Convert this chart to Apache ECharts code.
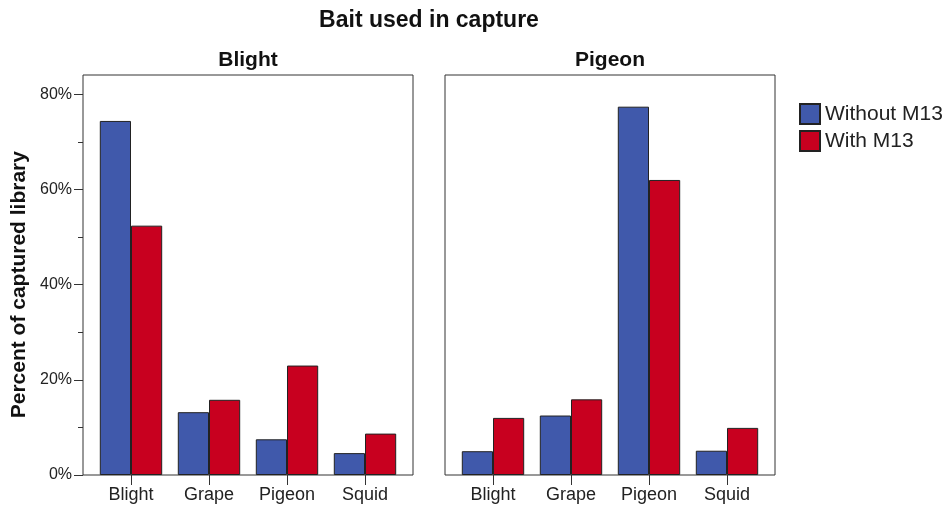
<!DOCTYPE html>
<html>
<head>
<meta charset="utf-8">
<script src="https://cdn.jsdelivr.net/npm/echarts@6/dist/echarts.min.js"></script>
<style>html,body{margin:0;padding:0;background:#fff}#c{width:944px;height:509px}</style>
</head>
<body>
<div id="c"></div>
<script>
const categories = ['Blight', 'Grape', 'Pigeon', 'Squid'];
const panelTitles = ['Blight', 'Pigeon'];
const seriesNames = ['Without M13', 'With M13'];
const blightWithout = [74.4, 13.2, 7.5, 4.6];
const blightWith = [52.4, 15.8, 23.0, 8.7];
const pigeonWithout = [5.0, 12.5, 77.4, 5.1];
const pigeonWith = [12.0, 15.9, 62.0, 9.9];
const yMax = 80;
const yInterval = 20;

const FONT = "'Liberation Sans', Arial, Helvetica, sans-serif";
const BLUE = '#4059ab';
const RED = '#c8001f';
const EDGE = '#222';

const chart = echarts.init(document.getElementById('c'), null, {renderer: 'canvas'});

const frameLeft = [83, 445];
const frameW = 330;
const pad = 9;
const frameTop = 75, bottomY = 475;
const dataTop = 94.3;

const grids = [];
const xAxes = [];
const yAxes = [];
frameLeft.forEach((l, i) => {
  grids.push({left: l, top: frameTop, width: frameW, height: bottomY - frameTop,
    show: true, borderColor: '#333', borderWidth: 1, backgroundColor: '#fff'});
  xAxes.push({gridIndex: i, type: 'category', data: categories, show: false});
  yAxes.push({gridIndex: i, type: 'value', show: false, min: 0, max: yMax});
});
frameLeft.forEach((l, i) => {
  grids.push({left: l + pad, top: dataTop, width: frameW - 2 * pad, height: bottomY - dataTop});
  xAxes.push({
    gridIndex: i + 2, type: 'category', data: categories,
    axisLine: {show: false},
    axisTick: {show: true, alignWithLabel: true, length: 10, lineStyle: {color: '#333'}},
    axisLabel: {margin: 11, color: '#222', fontSize: 18, fontFamily: FONT}
  });
  yAxes.push({
    gridIndex: i + 2, type: 'value', min: 0, max: yMax, interval: yInterval,
    show: i === 0, offset: pad,
    splitLine: {show: false},
    axisLine: {show: false},
    axisTick: {show: true, length: 9, lineStyle: {color: '#333'}},
    minorTick: {show: true, splitNumber: 2, length: 5, lineStyle: {color: '#333'}},
    axisLabel: {formatter: v => v + '%', margin: 11, color: '#222', fontSize: 16, fontFamily: FONT},
    name: i === 0 ? 'Percent of captured library' : '',
    nameLocation: 'middle', nameRotate: 90, nameGap: 53,
    nameTextStyle: {fontSize: 21, fontWeight: 'bold', color: '#111', fontFamily: FONT}
  });
});

function bar(name, data, idx, color) {
  return {
    name: name, type: 'bar', data: data, xAxisIndex: idx, yAxisIndex: idx,
    barGap: '0%', barCategoryGap: '20%',
    itemStyle: {color: color, borderColor: EDGE, borderWidth: 1},
    emphasis: {disabled: true}, silent: true
  };
}

const option = {
  animation: false,
  backgroundColor: '#fff',
  textStyle: {fontFamily: FONT},
  grid: grids,
  xAxis: xAxes,
  yAxis: yAxes,
  legend: {
    data: seriesNames, orient: 'vertical', left: 794, top: 98,
    itemWidth: 20, itemHeight: 20, itemGap: 5,
    icon: 'rect',
    textStyle: {fontSize: 21, color: '#222', fontFamily: FONT}
  },
  graphic: [
    {type: 'text', x: 429, y: 21, style: {text: 'Bait used in capture', align: 'center', verticalAlign: 'middle',
      font: "bold 23px " + FONT, fill: '#111'}},
    {type: 'text', x: frameLeft[0] + frameW / 2, y: 60, style: {text: panelTitles[0], align: 'center', verticalAlign: 'middle',
      font: "bold 21px " + FONT, fill: '#111'}},
    {type: 'text', x: frameLeft[1] + frameW / 2, y: 60, style: {text: panelTitles[1], align: 'center', verticalAlign: 'middle',
      font: "bold 21px " + FONT, fill: '#111'}}
  ],
  series: [
    bar(seriesNames[0], blightWithout, 2, BLUE),
    bar(seriesNames[1], blightWith, 2, RED),
    bar(seriesNames[0], pigeonWithout, 3, BLUE),
    bar(seriesNames[1], pigeonWith, 3, RED)
  ]
};
chart.setOption(option);
</script>
</body>
</html>
